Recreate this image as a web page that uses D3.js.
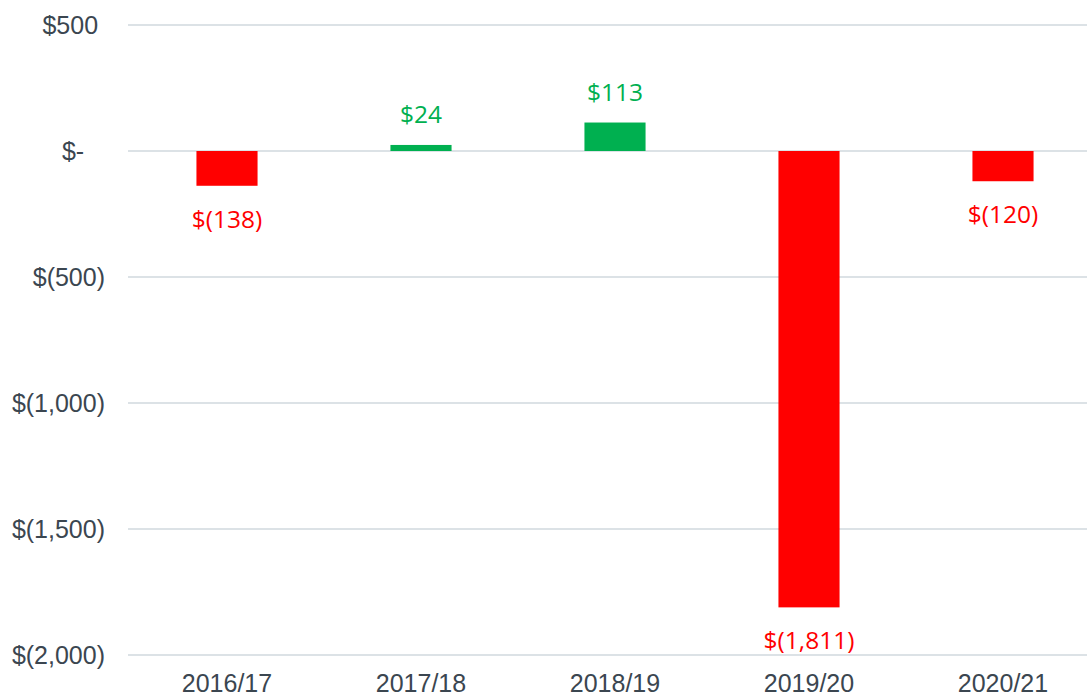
<!DOCTYPE html>
<html><head><meta charset="utf-8">
<script src="https://cdn.jsdelivr.net/npm/d3@7"></script>
<style>body{margin:0;background:#fff}svg{display:block}</style>
</head><body>
<script>
const categories = ["2016/17","2017/18","2018/19","2019/20","2020/21"];
const values = [-138, 24, 113, -1811, -120];
const yTicks = [500, 0, -500, -1000, -1500, -2000];
const yTickLabels = ["$500\u00a0","$-\u00a0\u00a0\u00a0","$(500)","$(1,000)","$(1,500)","$(2,000)"];
const valueLabels = ["$(138)","$24","$113","$(1,811)","$(120)"];

const W = 1087, H = 698;
const svg = d3.select("body").append("svg").attr("width", W).attr("height", H);

const y = d3.scaleLinear().domain([-2000, 500]).range([655, 25]);
const x = d3.scaleBand().domain(categories).range([130, 1100]).paddingInner(0.685).paddingOuter(0.3425);

// gridlines
svg.append("g").selectAll("line").data(yTicks).join("line")
  .attr("x1", 128).attr("x2", W)
  .attr("y1", d => y(d)).attr("y2", d => y(d))
  .attr("stroke", "#dce2e6").attr("stroke-width", 2);

// y axis labels
const yAxis = d3.axisLeft(y).tickValues(yTicks).tickFormat((d,i) => yTickLabels[i]).tickSize(0).tickPadding(0);
const gy = svg.append("g").attr("transform", "translate(105,0)").call(yAxis);
gy.select(".domain").remove();
gy.selectAll("text").attr("font-family", "Liberation Sans, Arial, sans-serif").attr("font-size", 25).attr("fill", "#3b4650")
  .style("white-space", "pre");

// x axis labels
const xAxis = d3.axisBottom(x).tickSize(0).tickPadding(0);
const gx = svg.append("g").attr("transform", "translate(0,674)").call(xAxis);
gx.select(".domain").remove();
gx.selectAll("text").attr("font-family", "Liberation Sans, Arial, sans-serif").attr("font-size", 25).attr("fill", "#3b4650").attr("dy", "0.71em");

const col = v => v < 0 ? "#ff0000" : "#00b050";

// bars
svg.append("g").selectAll("rect").data(values).join("rect")
  .attr("x", (d,i) => x(categories[i]))
  .attr("width", x.bandwidth())
  .attr("y", d => y(Math.max(0, d)))
  .attr("height", d => Math.abs(y(d) - y(0)))
  .attr("fill", col);

// value labels
svg.append("g").selectAll("text").data(values).join("text")
  .attr("x", (d,i) => x(categories[i]) + x.bandwidth()/2)
  .attr("y", d => d < 0 ? y(d) + 42 : y(d) - 22)
  .attr("text-anchor", "middle")
  .attr("font-family", "Open Sans, sans-serif")
  .attr("font-size", 24.5)
  .attr("fill", col)
  .text((d,i) => valueLabels[i]);
</script>
</body></html>
